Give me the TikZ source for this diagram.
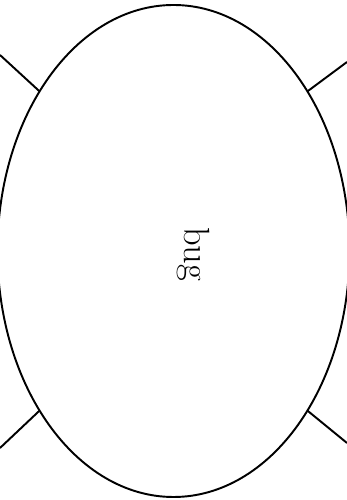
\documentclass[tikz,border=0pt]{standalone}
\usepackage{tikz}
\usetikzlibrary{shapes.geometric}
\tikzset{
  body/.style={draw,line width=1.1pt,ellipse,inner sep=0pt,outer sep=0pt,
    minimum width=7.04cm,minimum height=9.84cm},
  leg/.style={line width=1.1pt}
}

\begin{document}
\begin{tikzpicture}
      \useasboundingbox (0,0) rectangle (6.94,10);
      \node[body] (bug) at (3.47,4.98) {};
      \node[rotate=-90,font=\huge] (name) at (3.87,4.92) {bug};
      % legs
      \coordinate (legA) at (0,8.9);
      \coordinate (legB) at (6.94,8.76);
      \coordinate (legC) at (0,1.04);
      \coordinate (legD) at (6.94,1.14);
      \draw[leg] (bug.130) -- (legA);
      \draw[leg] (bug.50) -- (legB);
      \draw[leg] (bug.230) -- (legC);
      \draw[leg] (bug.310) -- (legD);
    \end{tikzpicture}
\end{document}
